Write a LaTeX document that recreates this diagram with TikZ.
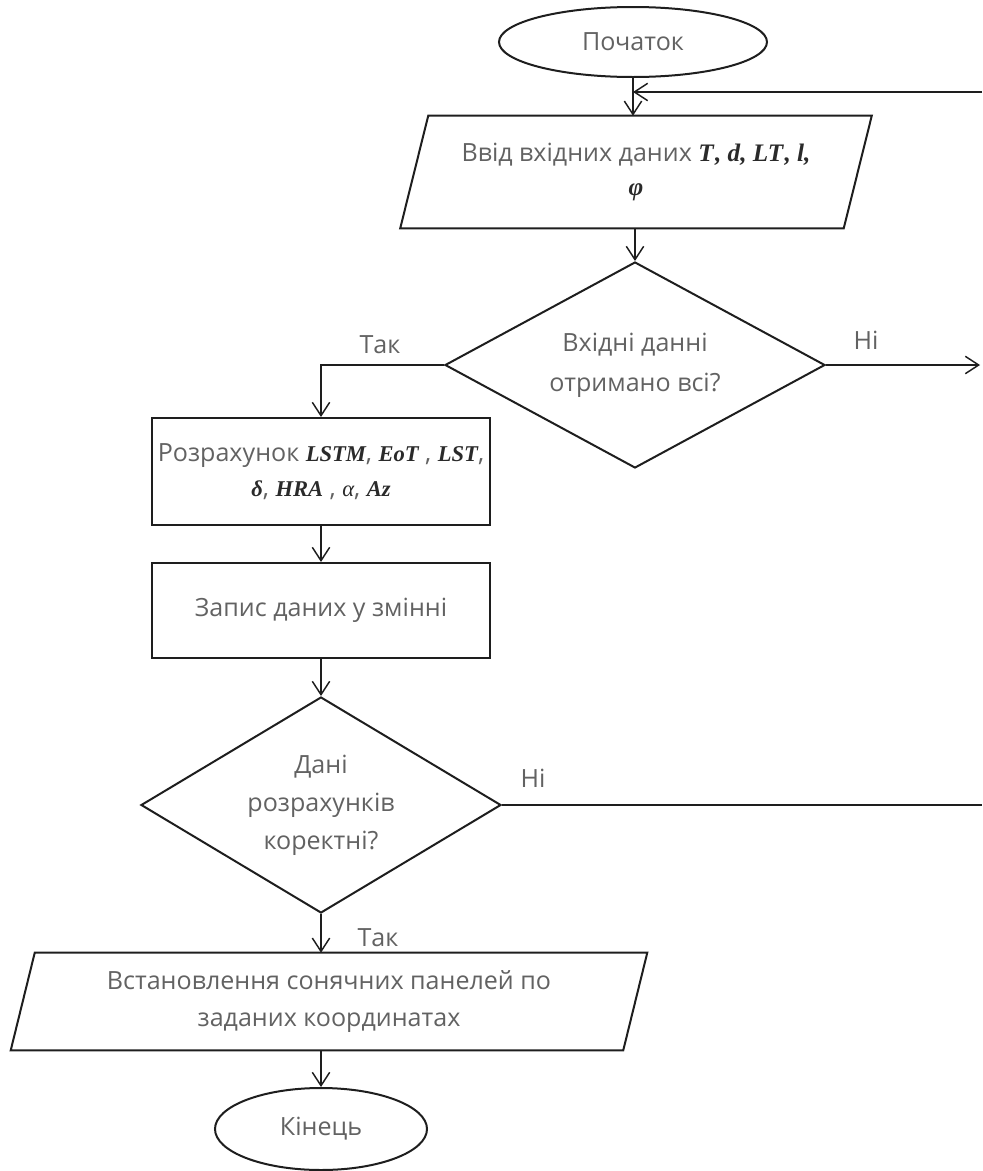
\documentclass[tikz,border=0pt]{standalone}
\usepackage{fontspec}
\setmainfont{Open Sans}
\newfontfamily\mserif[Scale=0.9]{Liberation Serif}
\usetikzlibrary{shapes.geometric,arrows.meta}
\definecolor{txt}{HTML}{626262}
\definecolor{ln}{HTML}{1E1E1E}
\definecolor{mth}{HTML}{2A2A2A}
\newcommand{\mv}[1]{{\mserif\bfseries\itshape\color{mth}#1}}
\newcommand{\mvb}[1]{{\mserif\fontsize{21}{26}\selectfont\bfseries\itshape\color{mth}#1}}
\begin{document}
\begin{tikzpicture}[x=0.75pt,y=-0.75pt,
 box/.style={draw=ln,line width=1.5pt,rectangle,inner sep=0pt,align=center},
 para/.style={rectangle,inner sep=0pt,align=center},
 paraline/.style={draw=ln,line width=1.5pt},
 term/.style={draw=ln,line width=1.5pt,ellipse,inner sep=0pt},
 dec/.style={draw=ln,line width=1.5pt,diamond,inner sep=0pt,aspect=1.7,align=center},
 conn/.style={draw=ln,line width=1.1pt,-{Straight Barb[length=10pt,width=13pt,line width=1.1pt]}},
 plain/.style={draw=ln,line width=1.1pt},
 lbl/.style={text=txt,font=\fontsize{18.8}{22}\selectfont},
 every node/.append style={text=txt,font=\fontsize{18.8}{26}\selectfont}]
\useasboundingbox (0,0) rectangle (982,1171);
% nodes
\node[term,minimum width=201pt,minimum height=52.5pt] (start) at (633,42) {Початок};
\node[para,minimum width=332.25pt,minimum height=84pt] (in1) at (636,172) {Ввід вхідних даних \mvb{T\kern1pt, d, LT\kern1pt, l,}\\ \mvb{φ}};
\draw[paraline] ([xshift=10.5pt]in1.north west) -- ([xshift=10.5pt]in1.north east) -- ([xshift=-10.5pt]in1.south east) -- ([xshift=-10.5pt]in1.south west) -- cycle;
\node[dec,minimum width=285pt,minimum height=154.5pt,font=\fontsize{18.8}{30}\selectfont] (d1) at (635,365) {Вхідні данні\\отримано всі?};
\node[box,minimum width=253.5pt,minimum height=80.25pt] (r1) at (321,471.5) {Розрахунок \mv{LSTM}, \mv{EoT} , \mv{LST},\\ \mv{δ}, \mv{HRA} , \mv{\mdseries α}, \mv{Az}};
\node[box,minimum width=253.5pt,minimum height=71.25pt] (r2) at (321,610.5) {Запис даних у змінні};
\node[dec,minimum width=270pt,minimum height=162pt,font=\fontsize{18.8}{28.5}\selectfont] (d2) at (321,805) {Дані\\розрахунків\\коректні?};
\node[para,minimum width=459pt,minimum height=72.75pt,font=\fontsize{18.8}{28}\selectfont] (in3) at (329,1001.5) {Встановлення сонячних панелей по\\заданих координатах};
\draw[paraline] ([xshift=9pt]in3.north west) -- ([xshift=9pt]in3.north east) -- ([xshift=-9pt]in3.south east) -- ([xshift=-9pt]in3.south west) -- cycle;
\node[term,minimum width=159pt,minimum height=61.5pt] (end) at (321,1129) {Кінець};
% labels
\node[lbl] (yes1) at (380,345) {Так};
\node[lbl] (no1) at (866,340) {Ні};
\node[lbl] (no2) at (533,778) {Ні};
\node[lbl] (yes2) at (378,938) {Так};
% free ends
\coordinate (fbR) at (982,92);
\coordinate (noR) at (980,365);
\coordinate (no2R) at (982,805);
% connectors
\draw[conn] (start.south) -- (start.south |- in1.north);
\draw[conn] (fbR) -- (start.south |- fbR);
\draw[conn] (in1.south -| d1.north) -- (d1.north);
\draw[conn] (d1.west) -| (r1.north);
\draw[conn] (d1.east) -- (noR);
\draw[conn] (r1.south) -- (r2.north);
\draw[conn] (r2.south) -- (d2.north);
\draw[plain] (d2.east) -- (no2R);
\draw[conn] (d2.south) -- (d2.south |- in3.north);
\draw[conn] (d2.south |- in3.south) -- (end.north);
\end{tikzpicture}
\end{document}
